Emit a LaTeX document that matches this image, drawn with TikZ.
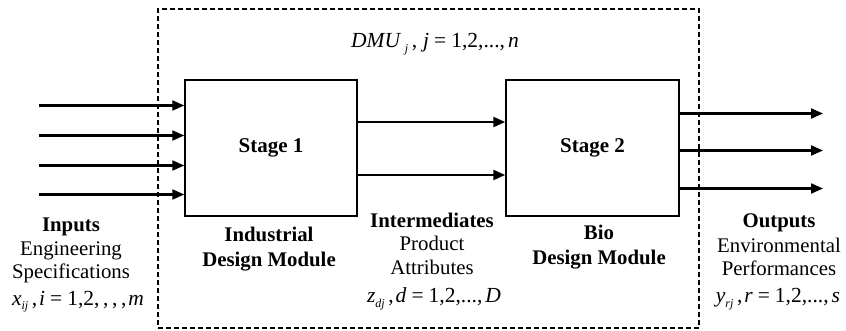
\documentclass[tikz,border=0pt]{standalone}
\usepackage{fontspec}
\setmainfont{Liberation Serif}
\usetikzlibrary{arrows.meta}
\newcommand{\mv}[1]{\textit{#1}}
\newcommand{\sbs}[1]{\raisebox{-5pt}{\fontsize{12}{12}\selectfont\textit{#1}}}
\newcommand{\eqsign}{\hspace{5pt}=\hspace{5pt}}
\begin{document}
\begin{tikzpicture}[x=1pt,y=-1pt,
  stagebox/.style={draw, line width=1.5pt, minimum width=172pt, minimum height=136pt, inner sep=0pt, font=\fontsize{21}{24}\selectfont\bfseries},
  flow/.style={line width=2.2pt, -{Triangle[length=12pt,width=10pt]}},
  lbl/.style={anchor=base, inner sep=0pt, font=\fontsize{20.8}{24}\selectfont},
  blbl/.style={anchor=base, inner sep=0pt, font=\fontsize{20.8}{24}\selectfont\bfseries},
  mlbl/.style={anchor=base, inner sep=0pt, font=\fontsize{21.5}{24}\selectfont},
  frame/.style={draw, line width=1.2pt, dash pattern=on 5pt off 3pt, inner sep=0pt}]
\useasboundingbox (0,0) rectangle (846,331);

% frame
\node[frame, minimum width=541pt, minimum height=319pt] (dmu) at (428.5,168.5) {};
\node[mlbl] (dmulbl) at (435,48) {\mv{DMU}\,\sbs{j}\,,\hspace{6pt}\mv{j}\eqsign1,2,...,\hspace{3pt}\mv{n}};

% stages
\node[stagebox] (s1) at (271,148) {Stage 1};
\node[stagebox, minimum width=173pt] (s2) at (592.5,148) {Stage 2};

% inputs
\coordinate (in1) at (39,105.5);
\coordinate (in2) at (39,135.5);
\coordinate (in3) at (39,165.5);
\coordinate (in4) at (39,194.5);
\foreach \c in {in1,in2,in3,in4} \draw[flow] (\c) -- (\c -| s1.west);

% intermediates
\coordinate (m1) at (358,122);
\coordinate (m2) at (358,175);
\foreach \c in {m1,m2} \draw[flow] (s1.east |- \c) -- (s2.west |- \c);

% outputs
\coordinate (o1) at (823,113.5);
\coordinate (o2) at (823,150.5);
\coordinate (o3) at (823,188.5);
\foreach \c in {o1,o2,o3} \draw[flow] (s2.east |- \c) -- (\c);

% labels: inputs
\node[blbl] (inA) at (71,232) {Inputs};
\node[lbl] (inB) at (71,255) {Engineering};
\node[lbl] (inC) at (71,278) {Specifications};
\node[mlbl] (inD) at (78,305) {\mv{x}\sbs{ij}\,,\hspace{2pt}\mv{i}\eqsign1,2,\,,\,,\,,\hspace{2pt}\mv{m}};

% labels: stage 1
\node[blbl] (s1A) at (269,242) {Industrial};
\node[blbl] (s1B) at (269,266) {Design Module};

% labels: intermediates
\node[blbl] (mA) at (432,228) {Intermediates};
\node[lbl] (mB) at (432,251) {Product};
\node[lbl] (mC) at (432,274) {Attributes};
\node[mlbl] (mD) at (434,302) {\mv{z}\sbs{dj}\,,\hspace{2pt}\mv{d}\eqsign1,2,...,\hspace{3pt}\mv{D}};

% labels: stage 2
\node[blbl] (s2A) at (599,240) {Bio};
\node[blbl] (s2B) at (599,264) {Design Module};

% labels: outputs
\node[blbl] (oA) at (779,228) {Outputs};
\node[lbl] (oB) at (779,252) {Environmental};
\node[lbl] (oC) at (779,275) {Performances};
\node[mlbl] (oD) at (778,302) {\mv{y}\sbs{rj}\,,\hspace{2pt}\mv{r}\eqsign1,2,...,\hspace{3pt}\mv{s}};
\end{tikzpicture}
\end{document}
